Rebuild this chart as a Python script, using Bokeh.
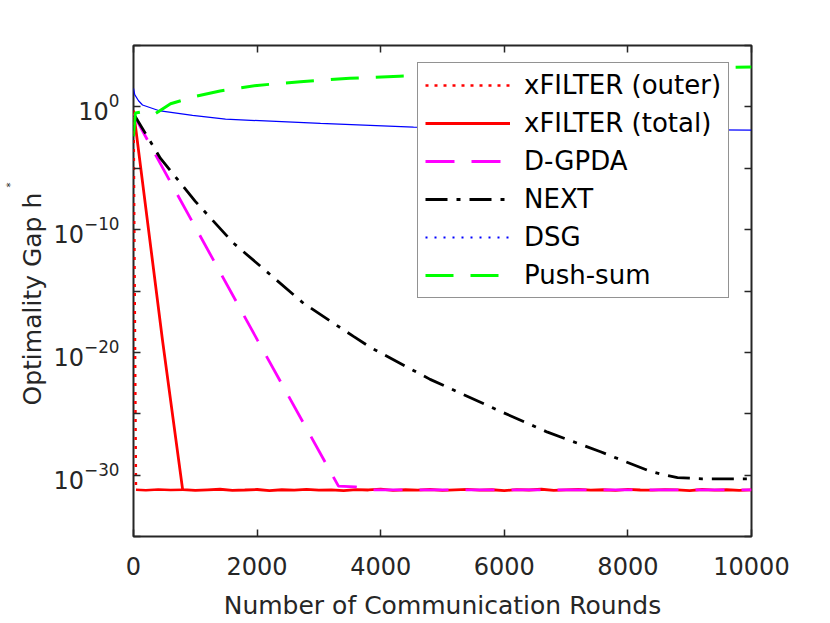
import numpy as np
from bokeh.plotting import figure
from bokeh.models import (FixedTicker, LinearAxis, Legend, LegendItem,
                          Title, Range1d, CustomJSTickFormatter)
from bokeh.embed import file_html
from bokeh.resources import INLINE

FONT = "DejaVu Sans"
INK = "#262626"

# ---------------- data (y values stored as log10 exponents) ----------------
x_ticks = [0, 2000, 4000, 6000, 8000, 10000]
y_major_exp = [0, -10, -20, -30]
y_minor_exp = [5, -5, -15, -25, -35]

outer_x = [1, 40]
outer_e = [-0.5, -31.2]

outer_floor_x = [40, 200, 400, 600, 800]
outer_floor_e = [-31.2, -31.24, -31.17, -31.22, -31.19]

floor_x = list(range(800, 10001, 200))
floor_e = [-31.18, -31.25, -31.20, -31.15, -31.24, -31.21, -31.17, -31.26, -31.19, -31.22,
           -31.16, -31.23, -31.20, -31.27, -31.18, -31.21, -31.14, -31.24, -31.19, -31.22,
           -31.17, -31.25, -31.20, -31.16, -31.23, -31.19, -31.26, -31.18, -31.21, -31.15,
           -31.24, -31.20, -31.17, -31.22, -31.19, -31.25, -31.16, -31.21, -31.23, -31.18,
           -31.20, -31.26, -31.17, -31.22, -31.19, -31.24, -31.20]

total_x = [0, 469, 793] + floor_x
total_e = [-0.3, -19.0, -31.1] + floor_e

dgpda_x = [0, 388, 2006, 3317, 3590, 3870, 10000]
dgpda_e = [-0.6, -4.2, -19.0, -30.9, -30.95, -31.2, -31.2]

next_x = [0, 30, 437, 1000, 1618, 2751, 3560, 3835, 4800, 5890, 6700, 7557, 8366, 8600, 8803, 9200, 10000]
next_e = [-0.7, -0.8, -4.2, -7.7, -11.1, -16.0, -18.7, -19.6, -22.2, -24.7, -26.5, -28.1, -29.7, -30.0, -30.2, -30.3, -30.3]

dsg_x = [0, 20, 81, 146, 405, 955, 1489, 3026, 4531, 7000, 10000]
dsg_e = [1.5, 1.0, 0.5, 0.15, -0.3, -0.7, -1.0, -1.35, -1.65, -1.8, -1.9]

push_x = [0, 30, 146, 324, 600, 1000, 1400, 2000, 2700, 3500, 4300, 6000, 8000, 10000]
push_e = [-2.4, -0.5, -0.4, -0.65, 0.25, 0.85, 1.3, 1.75, 2.05, 2.33, 2.5, 2.8, 3.05, 3.25]


def pw(exps):
    return [10.0 ** v for v in exps]


p = figure(width=830, height=623, y_axis_type="log",
           x_range=Range1d(0, 10000), y_range=Range1d(1e-35, 1e5),
           output_backend="svg", toolbar_location=None,
           min_border_left=133, min_border_right=79,
           min_border_top=45, min_border_bottom=87)
p.background_fill_color = "white"
p.border_fill_color = "white"
p.grid.visible = False
p.outline_line_color = INK
p.outline_line_width = 2
p.outline_line_alpha = 1

r_outer_floor = p.line(outer_floor_x, pw(outer_floor_e), line_color="#ff0000", line_width=2.5)
r_outer = p.line(outer_x, pw(outer_e), line_color="#ff0000", line_width=2.5, line_dash="3 6")
r_total = p.line(total_x, pw(total_e), line_color="#ff0000", line_width=2.8)
r_dg = p.line(dgpda_x, pw(dgpda_e), line_color="#ff00ff", line_width=2.8, line_dash="29 17")
r_next = p.line(next_x, pw(next_e), line_color="black", line_width=2.8, line_dash="22 9 4 9")
r_dsg = p.line(dsg_x, pw(dsg_e), line_color="#0000ff", line_width=1.2)
r_dsg_leg = p.line(x=[-500, -400], y=[1.0, 1.0], line_color="#0000ff", line_width=2, line_dash="2 7")
r_push = p.line(push_x, pw(push_e), line_color="#00ff00", line_width=3, line_dash="28 17")

# ---------------- axes ----------------
def style_axis(ax):
    ax.axis_line_color = None
    ax.major_tick_line_color = INK
    ax.major_tick_line_width = 1.5
    ax.major_tick_in = 7
    ax.major_tick_out = 0
    ax.minor_tick_line_color = INK
    ax.minor_tick_line_width = 1.5
    ax.minor_tick_in = 7
    ax.minor_tick_out = 0
    ax.major_label_text_font = FONT
    ax.major_label_text_font_size = "24px"
    ax.major_label_text_color = INK
    ax.axis_label_text_font = FONT
    ax.axis_label_text_font_size = "25px"
    ax.axis_label_text_font_style = "normal"
    ax.axis_label_text_color = INK

xax = p.xaxis[0]
yax = p.yaxis[0]
style_axis(xax)
style_axis(yax)
xax.ticker = FixedTicker(ticks=x_ticks, minor_ticks=[])
xax.minor_tick_line_color = None
yax.ticker = FixedTicker(ticks=pw(y_major_exp), minor_ticks=pw(y_minor_exp))
xax.axis_label = "Number of Communication Rounds"
xax.major_label_standoff = 20
xax.axis_label_standoff = 13
yax.major_label_standoff = 14

blank = CustomJSTickFormatter(code="return ''")

top = LinearAxis(ticker=FixedTicker(ticks=x_ticks, minor_ticks=[]), formatter=blank)
style_axis(top)
top.minor_tick_line_color = None
top.major_label_text_font_size = "1px"
top.major_label_standoff = 0
p.add_layout(top, "above")

right = LinearAxis(ticker=FixedTicker(ticks=pw(y_major_exp), minor_ticks=pw(y_minor_exp)),
                   formatter=CustomJSTickFormatter(code="return ''"))
style_axis(right)
right.major_label_text_font_size = "1px"
right.major_label_standoff = 0
p.add_layout(right, "right")

# y-axis label ("Optimality Gap h" with a raised asterisk) as side titles
ylab = Title(text="Optimality Gap h", align="left", offset=131, standoff=4,
             vertical_align="top",
             text_font=FONT, text_font_size="25px", text_font_style="normal",
             text_color=INK)
p.add_layout(ylab, "left")
ystar = Title(text="*", align="left", offset=349, standoff=0,
              text_font=FONT, text_font_size="10px", text_font_style="normal",
              text_color=INK)
p.add_layout(ystar, "left")

# ---------------- legend ----------------
legend = Legend(items=[
    LegendItem(label="xFILTER (outer)", renderers=[r_outer]),
    LegendItem(label="xFILTER (total)", renderers=[r_total]),
    LegendItem(label="D-GPDA", renderers=[r_dg]),
    LegendItem(label="NEXT", renderers=[r_next]),
    LegendItem(label="DSG", renderers=[r_dsg_leg]),
    LegendItem(label="Push-sum", renderers=[r_push]),
], location=(284, 238))
legend.border_line_color = INK
legend.border_line_width = 1.5
legend.background_fill_color = "white"
legend.background_fill_alpha = 1
legend.padding = 7
legend.spacing = 8
legend.margin = 0
legend.label_height = 30
legend.glyph_height = 30
legend.glyph_width = 85
legend.label_standoff = 14
legend.label_text_font = FONT
legend.label_text_font_size = "26px"
legend.label_text_color = "black"
p.add_layout(legend)

open("out.html", "w").write(file_html(p, INLINE))
